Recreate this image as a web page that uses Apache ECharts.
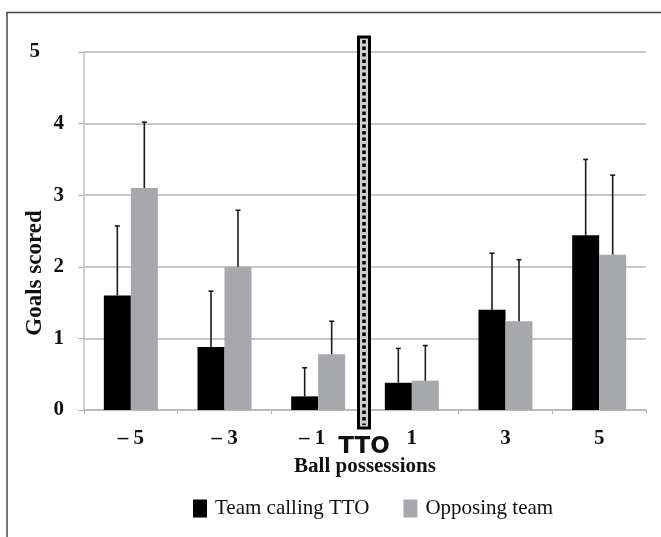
<!DOCTYPE html>
<html>
<head>
<meta charset="utf-8">
<script src="https://cdn.jsdelivr.net/npm/echarts@6/dist/echarts.min.js"></script>
<style>
  html, body { margin: 0; padding: 0; background: #fff; }
  #main { width: 661px; height: 537px; }
</style>
</head>
<body>
<div id="main"></div>
<script>
// possession categories around the time-out
var categories = ['\u2013 5', '\u2013 3', '\u2013 1', '1', '3', '5'];
var teamTTO = [1.6, 0.88, 0.19, 0.38, 1.4, 2.44];
var teamTTOsd = [0.97, 0.78, 0.40, 0.48, 0.79, 1.06];
var opposing = [3.1, 2.0, 0.78, 0.41, 1.24, 2.17];
var opposingSd = [0.92, 0.79, 0.46, 0.49, 0.86, 1.11];
var yTicks = [0, 1, 2, 3, 4, 5];

var serif = '"Liberation Serif", "Times New Roman", serif';
var BAR_W = 27;

let errorSeries = (name, means, sds, side) => ({
    name: name,
    type: 'custom',
    z: 5,
    data: means.map((m, i) => [i, m, m + sds[i]]),
    encode: { x: 0, y: [1, 2] },
    renderItem: (params, api) => {
        let i = api.value(0);
        let lo = api.coord([i, api.value(1)]);
        let hi = api.coord([i, api.value(2)]);
        let x = lo[0] + side * BAR_W / 2;
        let st = { stroke: '#1a1a1a', lineWidth: 1.6 };
        return {
            type: 'group',
            children: [
                { type: 'line', shape: { x1: x, y1: lo[1], x2: x, y2: hi[1] }, style: st },
                { type: 'line', shape: { x1: x - 2.5, y1: hi[1], x2: x + 2.5, y2: hi[1] }, style: st }
            ]
        };
    }
});

let chart = echarts.init(document.getElementById('main'));

let option = {
    animation: false,
    backgroundColor: '#fff',
    grid: { left: 84, right: 15, top: 52, bottom: 127 },
    legend: {
        left: 193,
        top: 498,
        padding: 0,
        itemWidth: 14,
        itemHeight: 18,
        itemGap: 34,
        icon: 'rect',
        data: ['Team calling TTO', 'Opposing team'],
        textStyle: { fontFamily: serif, fontSize: 21, color: '#111', padding: [0, 0, 0, 3] }
    },
    xAxis: {
        type: 'category',
        data: categories,
        name: 'Ball possessions',
        nameLocation: 'middle',
        nameGap: 46,
        nameTextStyle: { fontFamily: serif, fontSize: 21, fontWeight: 'bold', color: '#111' },
        axisLine: { lineStyle: { color: '#b8b8b8', width: 1.5 } },
        axisTick: { show: true, length: 4, lineStyle: { color: '#b8b8b8' } },
        axisLabel: {
            margin: 18,
            fontFamily: serif,
            fontSize: 21,
            fontWeight: 'bold',
            color: '#111',
            formatter: (v, i) => i === 2 ? '{l|' + v + '}' : v,
            rich: {
                l: { fontFamily: serif, fontSize: 21, fontWeight: 'bold', color: '#111', padding: [0, 12, 0, 0] }
            }
        }
    },
    yAxis: {
        type: 'value',
        min: yTicks[0],
        max: yTicks[yTicks.length - 1],
        interval: 1,
        axisLine: { show: true, lineStyle: { color: '#c0c0c0', width: 1.5 } },
        axisTick: { show: true, length: 6, lineStyle: { color: '#b0b0b0' } },
        splitLine: { lineStyle: { color: '#b5b5b5', width: 1.5 } },
        axisLabel: {
            margin: 20,
            fontFamily: serif,
            fontSize: 21,
            fontWeight: 'bold',
            color: '#111',
            formatter: v => v === 5 ? '{f|5}' : String(v),
            rich: {
                f: { fontFamily: serif, fontSize: 21, fontWeight: 'bold', color: '#111', padding: [0, 24, 0, 0] }
            }
        }
    },
    series: [
        {
            name: 'Team calling TTO',
            type: 'bar',
            data: teamTTO,
            barWidth: BAR_W,
            barGap: '0%',
            itemStyle: { color: '#000' }
        },
        {
            name: 'Opposing team',
            type: 'bar',
            data: opposing,
            barWidth: BAR_W,
            barGap: '0%',
            itemStyle: { color: '#a7a8ab' }
        },
        errorSeries('err1', teamTTO, teamTTOsd, -1),
        errorSeries('err2', opposing, opposingSd, 1)
    ]
};

chart.setOption(option);

// TTO marker between "-1" and "1", placed from the axis scale
let c2 = chart.convertToPixel({ xAxisIndex: 0 }, 2);
let c3 = chart.convertToPixel({ xAxisIndex: 0 }, 3);
let midX = (c2 + c3) / 2 - 1;
let yTop = chart.convertToPixel({ yAxisIndex: 0 }, 5) - 15;
let yBot = chart.convertToPixel({ yAxisIndex: 0 }, 0) + 18;

chart.setOption({
    graphic: [
        {
            type: 'rect',
            z: 0,
            silent: true,
            shape: { x: 7, y: 12.5, width: 700, height: 600 },
            style: { fill: null, stroke: '#444', lineWidth: 1.5 }
        },
        {
            type: 'text',
            x: 35,
            y: 273,
            rotation: Math.PI / 2,
            style: {
                text: 'Goals scored',
                fontFamily: serif,
                fontSize: 23,
                fontWeight: 'bold',
                fill: '#111',
                align: 'center',
                verticalAlign: 'middle'
            }
        },
        {
            type: 'rect',
            z: 100,
            shape: { x: midX - 5.5, y: yTop, width: 11, height: yBot - yTop },
            style: { fill: '#cfcfcf', stroke: '#000', lineWidth: 3 }
        },
        {
            type: 'line',
            z: 101,
            shape: { x1: midX, y1: yTop + 3, x2: midX, y2: yBot - 3 },
            style: { stroke: '#000', lineWidth: 3.5, lineDash: [3.5, 3] }
        },
        {
            type: 'text',
            z: 101,
            x: midX,
            y: yBot + 19,
            style: {
                text: 'TTO',
                fontFamily: '"DejaVu Sans", Verdana, sans-serif',
                fontSize: 23,
                fontWeight: 'bold',
                fill: '#111',
                align: 'center',
                verticalAlign: 'middle'
            }
        }
    ]
});
</script>
</body>
</html>
